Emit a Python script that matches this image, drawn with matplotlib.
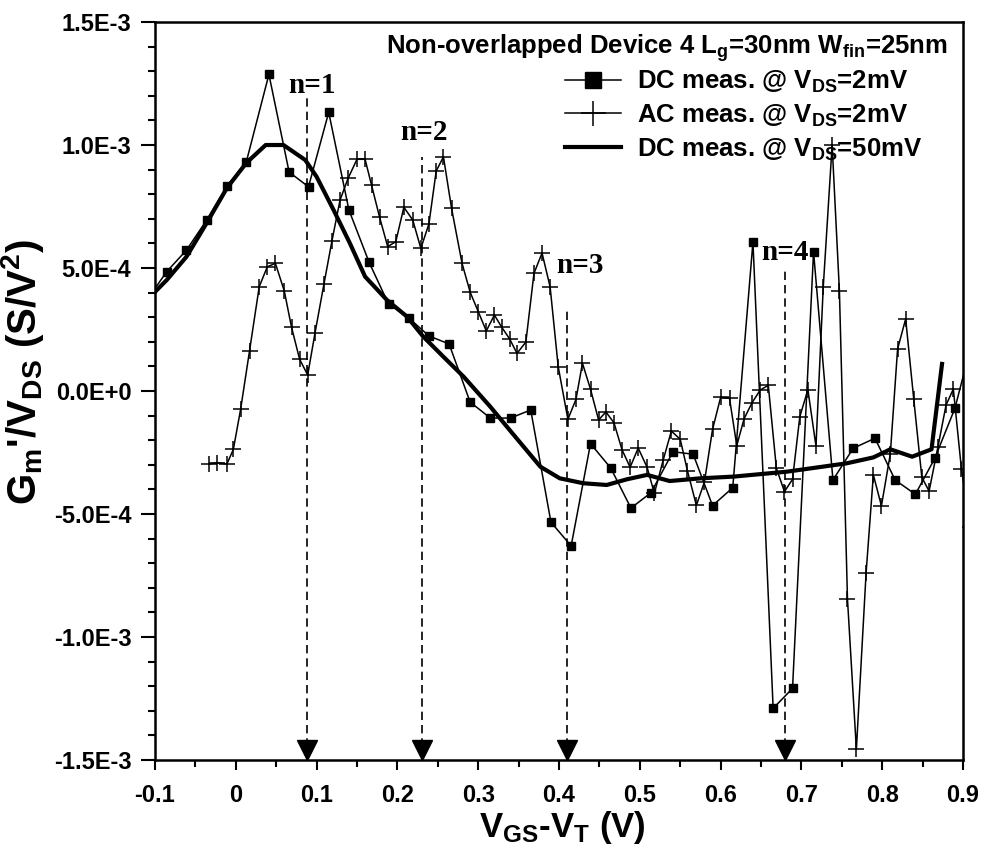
"""
Gm'/VDS vs VGS-VT for non-overlapped FinFET device 4 (DC and AC measurements).
"""
import matplotlib
matplotlib.use('Agg')
import matplotlib.pyplot as plt
import matplotlib.transforms as mtransforms
from matplotlib.ticker import MultipleLocator
import numpy as np

plt.rcParams['font.family'] = ['Liberation Sans', 'DejaVu Sans']
plt.rcParams['font.weight'] = 'bold'
plt.rcParams['mathtext.fontset'] = 'custom'
plt.rcParams['mathtext.rm'] = 'Liberation Sans:bold'
plt.rcParams['mathtext.it'] = 'Liberation Sans:bold'
plt.rcParams['mathtext.bf'] = 'Liberation Sans:bold'
plt.rcParams['mathtext.sf'] = 'Liberation Sans:bold'

# ---- data (G values in 1E-3 S/V^2) ----
dc2_v = [-0.110, -0.0855, -0.061, -0.036, -0.011, 0.013, 0.041, 0.066, 0.090, 0.115,
         0.140, 0.165, 0.189, 0.214, 0.239, 0.264, 0.290, 0.315, 0.340, 0.365,
         0.390, 0.415, 0.439, 0.464, 0.489, 0.514, 0.541, 0.566, 0.590, 0.615,
         0.640, 0.665, 0.689, 0.715, 0.739, 0.764, 0.791, 0.816, 0.841, 0.865,
         0.890, 0.915]
dc2_g = [0.37, 0.485, 0.573, 0.695, 0.833, 0.931, 1.287, 0.890, 0.830, 1.133,
         0.736, 0.523, 0.354, 0.297, 0.224, 0.191, -0.045, -0.110, -0.110, -0.077,
         -0.533, -0.630, -0.214, -0.313, -0.476, -0.413, -0.247, -0.257, -0.466, -0.393,
         0.606, -1.290, -1.209, 0.566, -0.362, -0.233, -0.192, -0.362, -0.420, -0.274,
         -0.070, 0.25]

ac_v = [-0.033, -0.023, -0.011, -0.003, 0.006, 0.017, 0.029, 0.039, 0.049, 0.060,
        0.069, 0.079, 0.089, 0.098, 0.109, 0.119, 0.129, 0.139, 0.150, 0.160,
        0.168, 0.178, 0.188, 0.198, 0.208, 0.219, 0.229, 0.239, 0.248, 0.257,
        0.267, 0.280, 0.290, 0.300, 0.310, 0.320, 0.329, 0.339, 0.348, 0.359,
        0.369, 0.379, 0.389, 0.399, 0.411, 0.421, 0.429, 0.439, 0.449, 0.458,
        0.468, 0.478, 0.488, 0.498, 0.509, 0.518, 0.529, 0.539, 0.550, 0.559,
        0.570, 0.580, 0.590, 0.600, 0.611, 0.620, 0.629, 0.639, 0.649, 0.659,
        0.669, 0.679, 0.689, 0.698, 0.708, 0.718, 0.727, 0.738, 0.747, 0.757,
        0.768, 0.780, 0.789, 0.799, 0.810, 0.819, 0.829, 0.839, 0.849, 0.858,
        0.869, 0.879, 0.888, 0.898, 0.909]
ac_g = [-0.297, -0.291, -0.297, -0.237, -0.074, 0.163, 0.424, 0.505, 0.519, 0.407,
        0.259, 0.129, 0.065, 0.235, 0.433, 0.610, 0.776, 0.865, 0.942, 0.942,
        0.837, 0.706, 0.587, 0.607, 0.747, 0.695, 0.580, 0.679, 0.894, 0.952,
        0.743, 0.519, 0.402, 0.323, 0.244, 0.309, 0.260, 0.211, 0.153, 0.199,
        0.478, 0.561, 0.423, 0.099, -0.115, -0.034, 0.113, 0.007, -0.118, -0.085,
        -0.129, -0.239, -0.310, -0.232, -0.310, -0.416, -0.280, -0.163, -0.196, -0.325,
        -0.465, -0.369, -0.156, -0.026, -0.030, -0.222, -0.113, -0.047, 0.004, 0.023,
        -0.314, -0.409, -0.359, -0.104, 0.005, -0.224, 0.422, 1.000, 0.407, -0.847,
        -1.457, -0.741, -0.341, -0.467, -0.256, 0.171, 0.293, -0.033, -0.351, -0.407,
        -0.226, -0.057, 0.008, -0.317, -0.553]

dc50_v = [-0.106, -0.0855, -0.061, -0.036, -0.011, 0.013, 0.037, 0.059, 0.086, 0.100,
          0.121, 0.141, 0.160, 0.187, 0.212, 0.232, 0.257, 0.282, 0.315, 0.339,
          0.377, 0.401, 0.430, 0.459, 0.484, 0.509, 0.537, 0.575, 0.616, 0.682,
          0.756, 0.789, 0.810, 0.837, 0.861, 0.874]
dc50_g = [0.383, 0.451, 0.546, 0.683, 0.825, 0.927, 1.0, 1.0, 0.939, 0.871,
          0.736, 0.602, 0.465, 0.370, 0.302, 0.221, 0.139, 0.058, -0.064, -0.159,
          -0.308, -0.355, -0.375, -0.382, -0.359, -0.341, -0.366, -0.355, -0.348, -0.328,
          -0.294, -0.270, -0.237, -0.267, -0.237, 0.110]

# resonance positions n=1..4 and top of their dashed guide lines
n_labels = ['n=1', 'n=2', 'n=3', 'n=4']
n_v = [0.088, 0.231, 0.410, 0.680]
n_top = [1.19, 0.95, 0.34, 0.505]

xticks = [-0.1, 0, 0.1, 0.2, 0.3, 0.4, 0.5, 0.6, 0.7, 0.8, 0.9]
xticklabels = ['-0.1', '0', '0.1', '0.2', '0.3', '0.4', '0.5', '0.6', '0.7', '0.8', '0.9']
yticks = [-1.5e-3, -1.0e-3, -5.0e-4, 0.0, 5.0e-4, 1.0e-3, 1.5e-3]
yticklabels = ['-1.5E-3', '-1.0E-3', '-5.0E-4', '0.0E+0', '5.0E-4', '1.0E-3', '1.5E-3']

s = 1e-3
fig = plt.figure(figsize=(9.84, 8.5), dpi=100)
ax = fig.add_axes([0.1575, 0.1059, 0.8212, 0.8682])

l1, = ax.plot(dc2_v, np.array(dc2_g) * s, color='k', lw=1.1, marker='s', ms=5.5,
              label=r'DC meas. @ $\mathrm{V_{DS}}$=2mV')
l2, = ax.plot(ac_v, np.array(ac_g) * s, color='k', lw=1.1, marker='+', ms=11, mew=1.1,
              label=r'AC meas. @ $\mathrm{V_{DS}}$=2mV')
l3, = ax.plot(dc50_v, np.array(dc50_g) * s, color='k', lw=3.0,
              label=r'DC meas. @ $\mathrm{V_{DS}}$=50mV')

ax.set_xlim(-0.1, 0.9)
ax.set_ylim(-1.5e-3, 1.5e-3)

# dashed guides with arrowheads down to the x axis
ybot = ax.get_ylim()[0]
ax.vlines(n_v, ybot, np.array(n_top) * s, colors='k', lw=1.2, linestyles=(0, (5, 3)))
up = mtransforms.ScaledTranslation(0, 7.5 / 72, fig.dpi_scale_trans)
ax.plot(n_v, [ybot] * len(n_v), ls='none', marker='v', ms=15, color='k',
        transform=ax.transData + up, clip_on=False)
n_pos = [(0.094, 1.24), (0.233, 1.05), (0.426, 0.51), (0.680, 0.565)]
for lab, (tx, ty) in zip(n_labels, n_pos):
    ax.text(tx, ty * s, lab, ha='center', va='center', fontsize=21,
            family='Liberation Serif', fontweight='bold')

ax.set_xticks(xticks)
ax.set_xticklabels(xticklabels)
ax.set_yticks(yticks)
ax.set_yticklabels(yticklabels)
ax.xaxis.set_minor_locator(MultipleLocator(0.05))
ax.yaxis.set_minor_locator(MultipleLocator(1e-4))
ax.tick_params(which='both', direction='out', width=1.5, top=False, right=False)
ax.tick_params(which='major', length=7, labelsize=17)
ax.tick_params(axis='x', which='major', pad=10)
ax.tick_params(axis='y', which='major', length=10, pad=7)
ax.tick_params(which='minor', length=5)
for sp in ax.spines.values():
    sp.set_linewidth(1.8)

ax.set_xlabel(r'$\mathrm{V_{GS}}$-$\mathrm{V_T}$ (V)', fontsize=25, fontweight='bold')
ax.xaxis.set_label_coords(0.504, -0.066)
ax.set_ylabel(r"$\mathrm{G_m}$'/$\mathrm{V_{DS}}$ (S/V$^\mathrm{2}$)", fontsize=29,
              fontweight='bold')
ax.yaxis.set_label_coords(-0.135, 0.526)

ax.text(0.981, 0.9576, r'Non-overlapped Device 4 $\mathrm{L_g}$=30nm $\mathrm{W_{fin}}$=25nm',
        transform=ax.transAxes, ha='right', va='baseline', fontsize=18.5)

leg = ax.legend(handles=[l1, l2, l3], loc='upper left', bbox_to_anchor=(0.507, 0.937),
                frameon=False, fontsize=18.5, borderpad=0, borderaxespad=0,
                handlelength=2.2, handletextpad=0.6, labelspacing=0.3)
for h, ms in zip(leg.legend_handles, [11, 18, 0]):
    h.set_markersize(ms)

fig.savefig('out.png', dpi=100)
